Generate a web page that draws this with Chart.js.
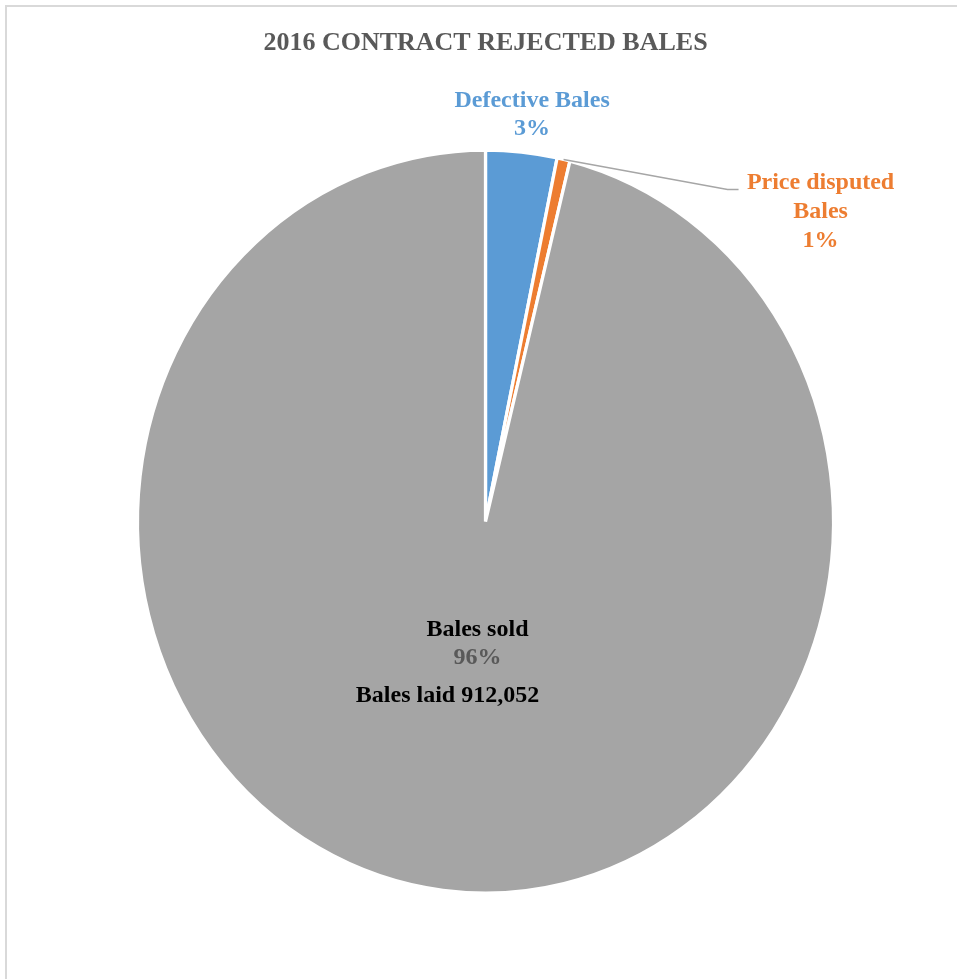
<!DOCTYPE html>
<html>
<head>
<meta charset="utf-8">
<script src="https://cdn.jsdelivr.net/npm/chart.js@4.4.0/dist/chart.umd.min.js"></script>
<style>
  html, body { margin: 0; padding: 0; background: #fff; }
  #wrap { position: relative; width: 957px; height: 979px; overflow: hidden; }
  #frame { position: absolute; left: 5px; top: 5px; width: 1000px; height: 1000px;
           border: 2px solid #d9d9d9; box-sizing: border-box; }
  canvas { position: absolute; left: 0; top: 0; }
</style>
</head>
<body>
<div id="wrap">
  <div id="frame"></div>
  <canvas id="pie" width="957" height="979"></canvas>
</div>
<script>
// 2016 contract rejected bales — pie with Excel-style data labels
const categories = ['Defective Bales', 'Price disputed Bales', 'Bales sold']
const labelLines = [['Defective Bales'], ['Price disputed', 'Bales'], ['Bales sold']]
const shares = [3.3, 0.6, 96.1]
const pctLabels = ['3%', '1%', '96%']
const sliceColors = ['#5b9bd5', '#ed7d31', '#a5a5a5']
const nameColors = ['#5b9bd5', '#ed7d31', '#000000']
const pctColors = ['#5b9bd5', '#ed7d31', '#595959']
const titleText = '2016 CONTRACT REJECTED BALES'
const noteText = 'Bales laid 912,052'

const FONT = "'Liberation Serif', 'DejaVu Serif', serif"
const X_SCALE = 346.5 / 370 // the original pie is a little taller than wide

const ellipsePlugin = {
  id: 'ellipse',
  beforeDatasetsDraw (chart) {
    const a = chart.getDatasetMeta(0).data[0]
    const ctx = chart.ctx
    ctx.save()
    ctx.translate(a.x, a.y)
    ctx.scale(X_SCALE, 1)
    ctx.translate(-a.x, -a.y)
  },
  afterDatasetsDraw (chart) {
    chart.ctx.restore()
  }
}

function onEllipse (a, angle, k) {
  return {
    x: a.x + Math.cos(angle) * a.outerRadius * k * X_SCALE,
    y: a.y + Math.sin(angle) * a.outerRadius * k
  }
}

function drawLines (ctx, lines, colors, cx, cy, lh) {
  const top = cy - (lines.length - 1) * lh / 2
  lines.forEach((t, i) => {
    ctx.fillStyle = colors[i]
    ctx.fillText(t, cx, top + i * lh)
  })
}

const labelPlugin = {
  id: 'sliceLabels',
  afterDraw (chart) {
    const ctx = chart.ctx
    const arcs = chart.getDatasetMeta(0).data
    const lh = 28
    ctx.save()
    ctx.font = `bold 24px ${FONT}`
    ctx.textAlign = 'center'
    ctx.textBaseline = 'middle'

    // Defective: outside, above its slice
    let a = arcs[0]
    let mid = (a.startAngle + a.endAngle) / 2
    let p = onEllipse(a, mid, 1.1)
    drawLines(ctx, [...labelLines[0], pctLabels[0]], [nameColors[0], pctColors[0]], p.x + 7, p.y, lh)

    // Price disputed: pulled out to the right with a leader line
    a = arcs[1]
    mid = (a.startAngle + a.endAngle) / 2
    p = onEllipse(a, mid, 1.0)
    const elbow = { x: p.x + 164, y: p.y + 30 }
    ctx.strokeStyle = '#a6a6a6'
    ctx.lineWidth = 1.5
    ctx.beginPath()
    ctx.moveTo(p.x, p.y)
    ctx.lineTo(elbow.x, elbow.y)
    ctx.lineTo(elbow.x + 11, elbow.y)
    ctx.stroke()
    drawLines(ctx, [...labelLines[1], pctLabels[1]],
      [nameColors[1], nameColors[1], pctColors[1]], elbow.x + 93, elbow.y + 22, 29)

    // Bales sold: inside
    a = arcs[2]
    mid = (a.startAngle + a.endAngle) / 2
    p = onEllipse(a, mid, 0.33)
    drawLines(ctx, [...labelLines[2], pctLabels[2]], [nameColors[2], pctColors[2]], p.x + 6, p.y, lh)

    // free text box under the inside label
    ctx.fillStyle = '#000'
    ctx.fillText(noteText, a.x - 38, a.y + 174)
    ctx.restore()
  }
}

new Chart(document.getElementById('pie'), {
  type: 'pie',
  data: {
    labels: categories,
    datasets: [{
      data: shares,
      backgroundColor: sliceColors,
      borderColor: '#ffffff',
      borderWidth: 3.5,
      hoverOffset: 0
    }]
  },
  options: {
    responsive: false,
    animation: false,
    layout: { padding: { top: 0, bottom: 84, left: 100, right: 86 } },
    plugins: {
      legend: { display: false },
      tooltip: { enabled: false },
      title: {
        display: true,
        text: titleText,
        color: '#595959',
        font: { family: FONT, size: 26, weight: 'bold' },
        padding: { top: 28, bottom: 89 }
      }
    }
  },
  plugins: [ellipsePlugin, labelPlugin]
})
</script>
</body>
</html>
